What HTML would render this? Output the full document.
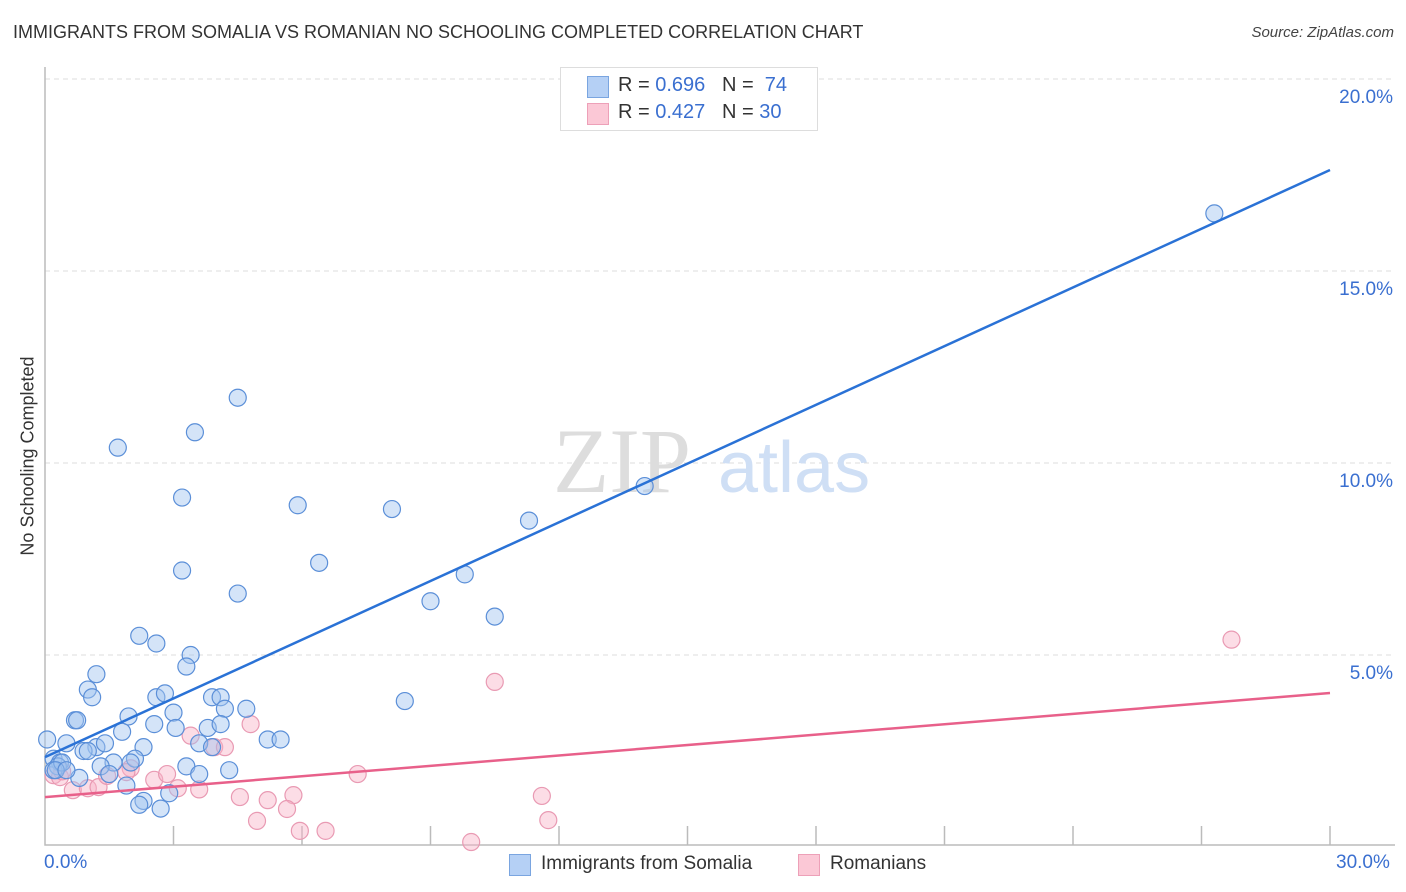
<!DOCTYPE html>
<html><head><meta charset="utf-8">
<style>
body{margin:0;background:#fff;font-family:"Liberation Sans",sans-serif;}
#wrap{position:relative;width:1406px;height:892px;overflow:hidden;}
.t{position:absolute;white-space:nowrap;}
</style></head>
<body>
<div id="wrap">
<div class="t" style="left:13px;top:22px;font-size:18px;color:#333;">IMMIGRANTS FROM SOMALIA VS ROMANIAN NO SCHOOLING COMPLETED CORRELATION CHART</div>
<div class="t" style="right:12px;top:24px;font-size:15px;color:#444;font-style:italic;">Source: ZipAtlas.com</div>
<svg id="svg" width="1406" height="892" style="position:absolute;left:0;top:0"></svg>
</div>
<script>
const yTicks=[5,10,15,20];
const xTickLabels=["0.0%","30.0%"];
const somaliaX=[27.3,4.5,3.5,1.7,3.2,5.9,8.1,11.3,14.0,6.4,3.2,9.8,4.5,9.0,10.5,2.2,2.6,3.4,3.3,1.2,1.0,1.1,2.6,2.8,3.9,4.1,8.4,0.7,0.75,1.95,3.0,4.2,4.7,1.8,2.55,3.05,3.8,4.1,0.05,0.5,1.2,1.4,0.9,1.0,2.3,3.6,3.9,5.2,5.5,0.2,0.35,0.3,1.6,2.1,2.0,1.3,1.5,3.3,3.6,4.3,0.8,1.9,2.3,2.2,2.9,2.7,0.2,0.4,0.25,0.5];
const somaliaY=[16.5,11.7,10.8,10.4,9.1,8.9,8.8,8.5,9.4,7.4,7.2,7.1,6.6,6.4,6.0,5.5,5.3,5.0,4.7,4.5,4.1,3.9,3.9,4.0,3.9,3.9,3.8,3.3,3.3,3.4,3.5,3.6,3.6,3.0,3.2,3.1,3.1,3.2,2.8,2.7,2.6,2.7,2.5,2.5,2.6,2.7,2.6,2.8,2.8,2.3,2.2,2.1,2.2,2.3,2.2,2.1,1.9,2.1,1.9,2.0,1.8,1.6,1.2,1.1,1.4,1.0,2.0,2.2,2.0,2.0];
const romX=[27.7,10.5,4.8,3.4,3.95,4.2,7.3,2.55,2.85,2.0,1.9,0.2,0.35,0.4,0.65,1.0,1.25,1.45,3.1,3.6,4.55,5.2,5.8,5.65,4.95,5.95,6.55,9.95,11.6,11.75];
const romY=[5.4,4.3,3.2,2.9,2.6,2.6,1.9,1.75,1.9,2.05,1.95,1.87,1.82,1.97,1.48,1.53,1.56,1.85,1.53,1.5,1.3,1.22,1.35,0.99,0.68,0.42,0.42,0.13,1.33,0.7];
const somaliaLine=[2.34,17.63];
const romLine=[1.30,4.01];
const X0=45,X1=1330,Y0=847,PXY=38.4;
const xs=v=>X0+v*(X1-X0)/30, ys=v=>Y0-v*PXY;
const svg=document.getElementById('svg');const NS='http://www.w3.org/2000/svg';
function mk(t,a,p){const e=document.createElementNS(NS,t);for(const k in a)e.setAttribute(k,a[k]);(p||svg).appendChild(e);return e;}
yTicks.forEach(v=>{
 const g=mk('line',{x1:X0,x2:1395,y1:ys(v),y2:ys(v),stroke:'#ddd','stroke-dasharray':'5,4'});
 
 
 const t=mk('text',{x:1393,y:ys(v)+24,'text-anchor':'end','font-size':19,fill:'#3a6fd0','font-family':'Liberation Sans'});t.textContent=v.toFixed(1)+'%';
 
 
});
const wm=mk('text',{x:553,y:492,'font-size':92,fill:'#ddd','font-family':'Liberation Serif'});wm.textContent='ZIP';


const wm2=mk('text',{x:718,y:492,'font-size':72,fill:'#cfdff5','font-family':'Liberation Sans'});wm2.textContent='atlas';


const ax=mk('path',{d:`M${X0} 67 V845 H1395`,stroke:'#bbb',fill:'none','stroke-width':1.5});


for(let i=1;i<=10;i++){const tk=mk('line',{x1:xs(i*3),x2:xs(i*3),y1:826,y2:845,stroke:'#bbb','stroke-width':1.5});
 
 }
romX.forEach((x,i)=>{const c=mk('circle',{cx:xs(x),cy:ys(romY[i]),r:8.5,fill:'rgba(248,180,200,0.45)',stroke:'#e99ab3','stroke-width':1.2});
 
 });
somaliaX.forEach((x,i)=>{const c=mk('circle',{cx:xs(x),cy:ys(somaliaY[i]),r:8.5,fill:'rgba(160,196,240,0.45)',stroke:'#5b8fd8','stroke-width':1.2});
 
 });
const l1=mk('line',{x1:xs(0),y1:ys(somaliaLine[0]),x2:xs(30),y2:ys(somaliaLine[1]),stroke:'#2a72d6','stroke-width':2.5});


const l2=mk('line',{x1:xs(0),y1:ys(romLine[0]),x2:xs(30),y2:ys(romLine[1]),stroke:'#e8608a','stroke-width':2.5});


</script>
<div class="t" style="left:44px;top:852px;font-size:19px;color:#3a6fd0;">0.0%</div>
<div class="t" style="left:1336px;top:852px;font-size:19px;color:#3a6fd0;">30.0%</div>
<div class="t" style="left:28px;top:456px;font-size:18px;color:#333;transform:translate(-50%,-50%) rotate(-90deg);">No Schooling Completed</div>
<div style="position:absolute;left:560px;top:67px;width:256px;height:62px;border:1px solid #ddd;background:#fff;font-size:20px;">
 <div style="position:absolute;left:26px;top:8px;width:20px;height:20px;background:#b5d0f5;border:1px solid #7aa5e0;"></div>
 <div class="t" style="left:57px;top:6px;color:#333;">R = <span style="color:#3a6fd0">0.696</span>&nbsp;&nbsp;&nbsp;N = &nbsp;<span style="color:#3a6fd0">74</span></div>
 <div style="position:absolute;left:26px;top:35px;width:20px;height:20px;background:#fbc8d6;border:1px solid #eda0b8;"></div>
 <div class="t" style="left:57px;top:33px;color:#333;">R = <span style="color:#3a6fd0">0.427</span>&nbsp;&nbsp;&nbsp;N = <span style="color:#3a6fd0">30</span></div>
</div>
<div style="position:absolute;left:509px;top:853px;">
 <div style="position:absolute;left:0;top:1px;width:20px;height:20px;background:#b5d0f5;border:1px solid #7aa5e0;"></div>
 <div class="t" style="left:32px;top:0;font-size:19px;color:#333;">Immigrants from Somalia</div>
</div>
<div style="position:absolute;left:798px;top:853px;">
 <div style="position:absolute;left:0;top:1px;width:20px;height:20px;background:#fbc8d6;border:1px solid #eda0b8;"></div>
 <div class="t" style="left:32px;top:0;font-size:19px;color:#333;">Romanians</div>
</div>
</body></html>
